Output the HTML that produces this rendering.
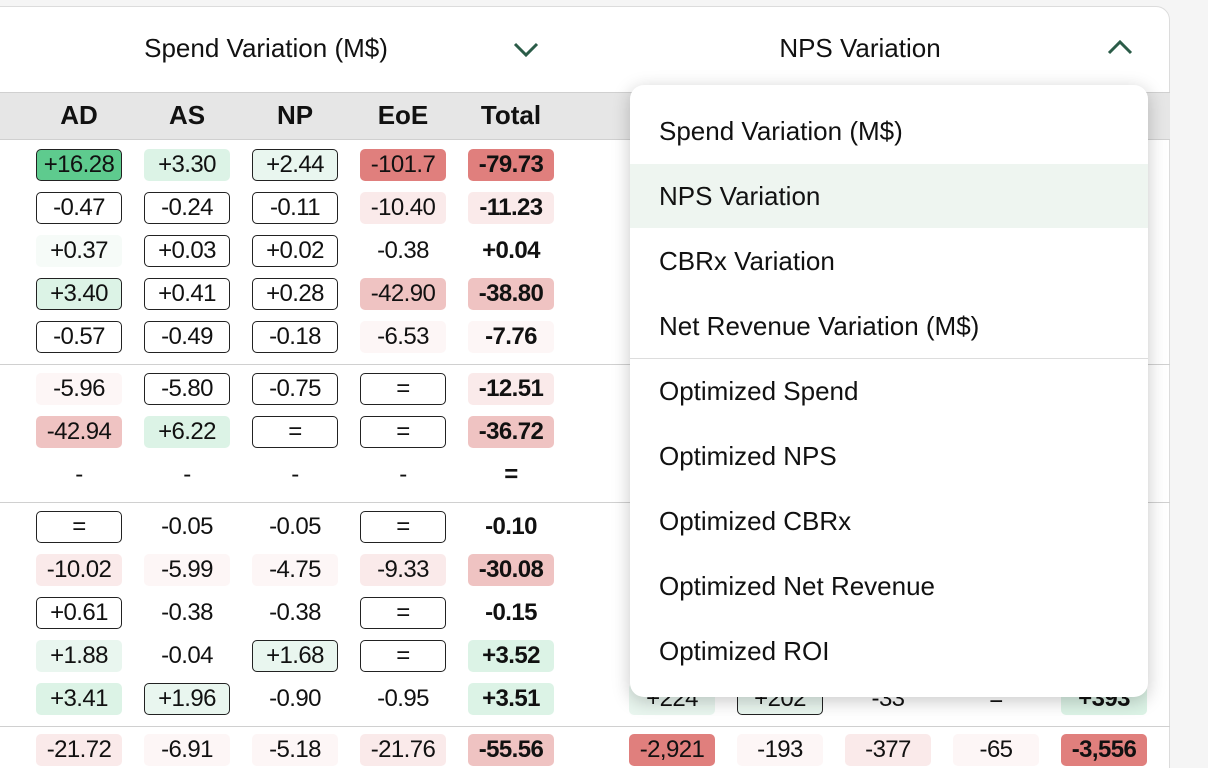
<!DOCTYPE html>
<html style="width:1208px;height:768px;overflow:hidden"><head><meta charset="utf-8">
<style>
*{box-sizing:border-box;margin:0;padding:0}
body{width:1208px;height:768px;overflow:hidden;background:#f5f5f5;font-family:"Liberation Sans",sans-serif;color:#111;position:relative}
#card{position:absolute;left:-20px;top:6px;width:1190px;height:790px;background:#fff;border:1px solid #dcdcdc;border-radius:14px;overflow:hidden}
.abs{position:absolute}
.hdr{font-size:26px;top:33px;white-space:nowrap;transform:translateX(-50%)}
#colband{position:absolute;left:0;top:92px;width:1170px;height:48px;background:#e6e6e6;border-top:1px solid #d0d0d0;border-bottom:1px solid #d0d0d0}
.ch{position:absolute;top:100px;font-size:26px;font-weight:bold;transform:translateX(-50%)}
.cell{position:absolute;width:86px;height:32px;border-radius:5px;font-size:24px;line-height:32px;text-align:center;letter-spacing:-0.6px}
.sep{position:absolute;left:0;width:1170px;height:1px;background:#d0d0d0}
#dd{position:absolute;left:630px;top:85px;width:518px;height:612px;background:#fff;border-radius:14px;box-shadow:0 4px 18px rgba(0,0,0,0.22)}
.it{position:absolute;left:0;width:518px;height:64px;font-size:26px;line-height:64px;padding-left:29px}
</style></head>
<body>
<div id="card"></div>
<div class="abs hdr" style="left:266px">Spend Variation (M$)</div>
<svg class="abs" style="left:512px;top:40px" width="28" height="20"><polyline points="3,4 14,15 25,4" fill="none" stroke="#2b5c48" stroke-width="3"/></svg>
<div class="abs hdr" style="left:860px">NPS Variation</div>
<svg class="abs" style="left:1106px;top:37px" width="28" height="20"><polyline points="3,16 14,5 25,16" fill="none" stroke="#2b5c48" stroke-width="3"/></svg>
<div id="colband"></div>
<div id="tbl"></div>
<div id="dd"></div>
<script>
const colHeads=["AD","AS","NP","EoE","Total"];
const rowY=[165,208,251,294,337,389,432,475,527,570,613,656,699,750];
const leftVals=[
["+16.28","+3.30","+2.44","-101.7","-79.73"],
["-0.47","-0.24","-0.11","-10.40","-11.23"],
["+0.37","+0.03","+0.02","-0.38","+0.04"],
["+3.40","+0.41","+0.28","-42.90","-38.80"],
["-0.57","-0.49","-0.18","-6.53","-7.76"],
["-5.96","-5.80","-0.75","=","-12.51"],
["-42.94","+6.22","=","=","-36.72"],
["-","-","-","-","="],
["=","-0.05","-0.05","=","-0.10"],
["-10.02","-5.99","-4.75","-9.33","-30.08"],
["+0.61","-0.38","-0.38","=","-0.15"],
["+1.88","-0.04","+1.68","=","+3.52"],
["+3.41","+1.96","-0.90","-0.95","+3.51"],
["-21.72","-6.91","-5.18","-21.76","-55.56"]];
const leftStyle=[
["g1b","g2","g3b","r1","r1"],
["b","b","b","r3","r3"],
["g4","b","b","","" ],
["g2b","b","b","r2","r2"],
["b","b","b","r4","r4"],
["r4","b","b","b","r3"],
["r2","g2","b","b","r2"],
["","","","",""],
["b","","","b",""],
["r3","r4","r4","r3","r2"],
["b","","","b",""],
["g3","","g3b","b","g2"],
["g2","g3b","","","g2"],
["r3","r4","r4","r3","r2"]];
const rightVals=[["+224","+202","-33","=","+393"],["-2,921","-193","-377","-65","-3,556"]];
const rightStyle=[["g3","g3b","","","g2"],["r1","r4","r3","r4","r1"]];
const rightRows=[699,750];
const menuItems=["Spend Variation (M$)","NPS Variation","CBRx Variation","Net Revenue Variation (M$)","Optimized Spend","Optimized NPS","Optimized CBRx","Optimized Net Revenue","Optimized ROI"];
const seps=[364,502,726];
const colors={g1:"#5ecb8e",g2:"#dcf3e6",g3:"#e9f6ef",g4:"#f6fbf8",r1:"#e07f7d",r2:"#efc3c2",r3:"#faeaea",r4:"#fdf6f6"};
const leftX=[79,187,295,403,511], rightX=[672,780,888,996,1104];
const tbl=document.getElementById('tbl');
colHeads.forEach((h,i)=>{const d=document.createElement('div');d.className='ch';d.style.left=leftX[i]+'px';d.textContent=h;


tbl.appendChild(d);});
seps.forEach(y=>{const s=document.createElement('div');s.className='sep';s.style.top=y+'px';


tbl.appendChild(s);});
function cell(v,st,x,y,bold){const c=document.createElement('div');c.className='cell';
c.style.left=(x-43)+'px';c.style.top=(y-16)+'px';c.textContent=v;
const key=st.length>=2?st.slice(0,2):'';
if(colors[key])c.style.background=colors[key];
if(st==='b'||(st.endsWith('b')&&st.length===3)){c.style.border='1.5px solid #222';c.style.lineHeight='29px';}
if(bold)c.style.fontWeight='bold';


tbl.appendChild(c);}
leftVals.forEach((r,ri)=>r.forEach((v,ci)=>cell(v,leftStyle[ri][ci],leftX[ci],rowY[ri],ci===4)));
rightVals.forEach((r,ri)=>r.forEach((v,ci)=>cell(v,rightStyle[ri][ci],rightX[ci],rightRows[ri],ci===4)));
const dd=document.getElementById('dd');
menuItems.forEach((t,i)=>{const it=document.createElement('div');it.className='it';
it.style.top=(14+i*65)+'px';it.textContent=t;
if(i===1)it.style.background='#eef5f0';


dd.appendChild(it);});
const dl=document.createElement('div');dl.style.cssText='position:absolute;left:0;top:273px;width:518px;height:1px;background:#ddd';


dd.appendChild(dl);
</script>
</body></html>
